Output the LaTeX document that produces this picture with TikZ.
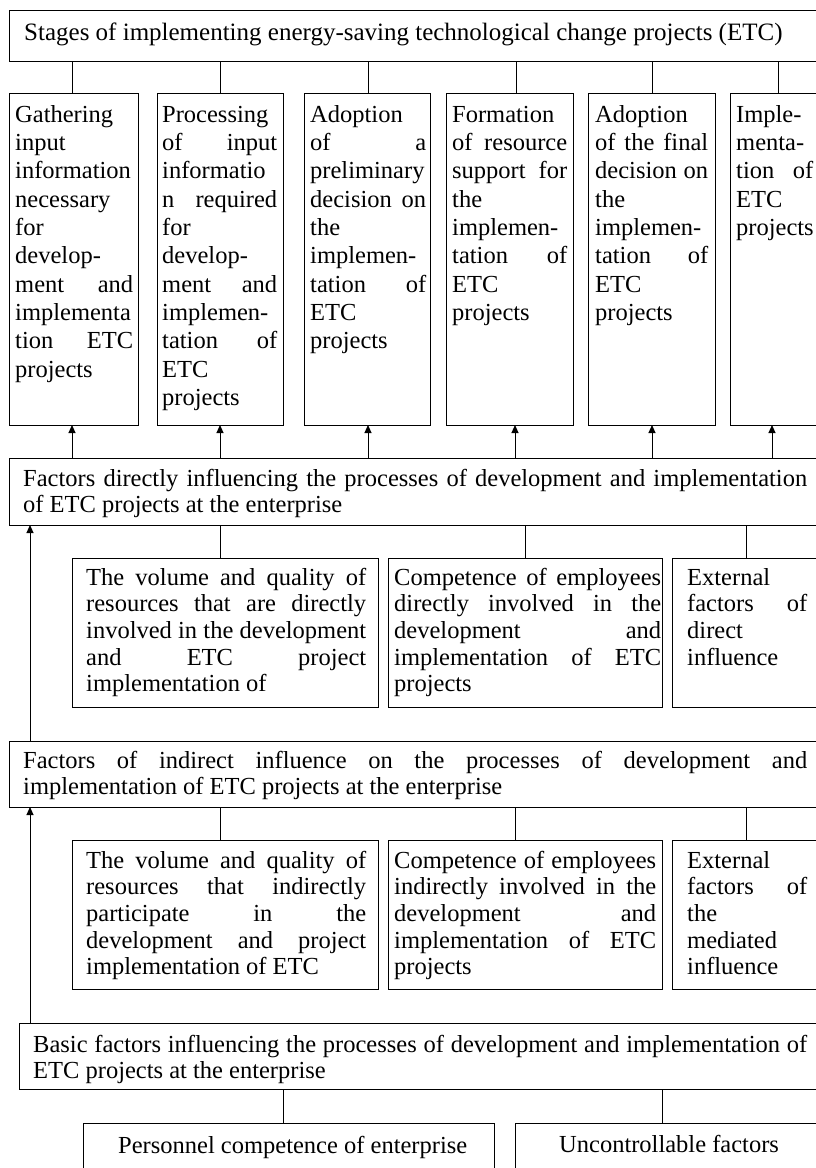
\documentclass[tikz,border=0pt]{standalone}
\usepackage{fontspec}
\setmainfont{Liberation Serif}
\usetikzlibrary{arrows.meta}
\setlength\parindent{0pt}
\AtBeginDocument{\tolerance=10000 \hyphenpenalty=10000 \hbadness=10000 \hfuzz=5pt}
\newcommand\st{\rule{0pt}{20pt}}
\begin{document}
\begin{tikzpicture}[x=1pt,y=-1pt,
  frame/.style={draw, line width=1pt, inner sep=0pt, outer sep=0pt, anchor=north west},
  stagetext/.style={anchor=north west, inner sep=0pt, align=justify, font=\fontsize{24.5}{28.33}\selectfont},
  factext/.style={anchor=north west, inner sep=0pt, align=justify, font=\fontsize{24.5}{26.67}\selectfont},
  plaintext/.style={anchor=north west, inner sep=0pt, font=\fontsize{24.5}{26.67}\selectfont},
  titletext/.style={anchor=north west, inner sep=0pt, font=\fontsize{25}{28}\selectfont},
  conn/.style={line width=1pt},
  arr/.style={line width=1pt, -{Triangle[length=8pt,width=7pt]}}]
\useasboundingbox (0,0) rectangle (816,1168);
\clip (0,0) rectangle (816,1168);

% column coordinates
\coordinate (c1) at (72,0);
\coordinate (c2) at (220,0);
\coordinate (c3) at (368,0);
\coordinate (c4) at (516,0);
\coordinate (c5) at (652,0);
\coordinate (c6) at (778,0);
\coordinate (a6) at (772,0);
\coordinate (k1) at (220,0);
\coordinate (k2) at (525,0);
\coordinate (k3) at (746,0);
\coordinate (m2) at (515,0);
\coordinate (b1) at (283,0);
\coordinate (b2) at (662,0);
\coordinate (L) at (30,0);

% top box
\node[frame, minimum width=821pt, minimum height=51pt] (top) at (9,10) {};
\node[titletext] (topt) at (24,20) {\st Stages of implementing energy-saving technological change projects (ETC)};

% stage boxes
\node[frame, minimum width=129pt, minimum height=332pt] (s1) at (9,93) {};
\node[frame, minimum width=126pt, minimum height=332pt] (s2) at (157,93) {};
\node[frame, minimum width=126pt, minimum height=332pt] (s3) at (304,93) {};
\node[frame, minimum width=127pt, minimum height=332pt] (s4) at (446,93) {};
\node[frame, minimum width=127pt, minimum height=332pt] (s5) at (588,93) {};
\node[frame, minimum width=92pt, minimum height=332pt] (s6) at (730,93) {};

\node[stagetext, text width=118pt] (s1t) at (15,102) {\st Gathering\linebreak input\linebreak information\linebreak necessary\linebreak for\linebreak develop-\linebreak ment and\linebreak implementa\linebreak tion ETC\linebreak projects};
\node[stagetext, text width=115pt] (s2t) at (162,102) {\st Processing\linebreak of input\linebreak informatio\linebreak n required\linebreak for\linebreak develop-\linebreak ment and\linebreak implemen-\linebreak tation of\linebreak ETC\linebreak projects};
\node[stagetext, text width=116pt] (s3t) at (310,102) {\st Adoption\linebreak of a\linebreak preliminary\linebreak decision on\linebreak the\linebreak implemen-\linebreak tation of\linebreak ETC\linebreak projects};
\node[stagetext, text width=115pt] (s4t) at (452,102) {\st Formation\linebreak of resource\linebreak support for\linebreak the\linebreak implemen-\linebreak tation of\linebreak ETC\linebreak projects};
\node[stagetext, text width=113pt] (s5t) at (595,102) {\st Adoption\linebreak of the final\linebreak decision on\linebreak the\linebreak implemen-\linebreak tation of\linebreak ETC\linebreak projects};
\node[stagetext, text width=77pt] (s6t) at (736,102) {\st Imple-\linebreak menta-\linebreak tion of\linebreak ETC\linebreak projects};

\foreach \i in {1,...,6} {\draw[conn] (top.south -| c\i) -- (s\i.north -| c\i);}

% direct factors
\node[frame, minimum width=821pt, minimum height=67pt] (fd) at (9,458) {};
\node[factext, text width=784pt] (fdt) at (23,466) {\st Factors directly influencing the processes of development and implementation\linebreak of ETC projects at the enterprise};

\draw[arr] (fd.north -| c1) -- (s1.south -| c1);
\draw[arr] (fd.north -| c2) -- (s2.south -| c2);
\draw[arr] (fd.north -| c3) -- (s3.south -| c3);
\draw[arr] (fd.north -| m2) -- (s4.south -| m2);
\draw[arr] (fd.north -| c5) -- (s5.south -| c5);
\draw[arr] (fd.north -| a6) -- (s6.south -| a6);

\node[frame, minimum width=306pt, minimum height=149pt] (da) at (72,558) {};
\node[frame, minimum width=274pt, minimum height=149pt] (db) at (388,558) {};
\node[frame, minimum width=158pt, minimum height=149pt] (dc) at (672,558) {};
\node[factext, text width=280pt] (dat) at (86,565) {\st The volume and quality of\linebreak resources that are directly\linebreak involved in the development\linebreak and ETC project\linebreak implementation of};
\node[factext, text width=267pt] (dbt) at (394,565) {\st Competence of employees\linebreak directly involved in the\linebreak development and\linebreak implementation of ETC\linebreak projects};
\node[factext, text width=120pt] (dct) at (687,565) {\st External\linebreak factors of\linebreak direct\linebreak influence};

\draw[conn] (fd.south -| k1) -- (da.north -| k1);
\draw[conn] (fd.south -| k2) -- (db.north -| k2);
\draw[conn] (fd.south -| k3) -- (dc.north -| k3);

% indirect factors
\node[frame, minimum width=821pt, minimum height=66pt] (fi) at (9,741) {};
\node[factext, text width=784pt] (fit) at (23,748) {\st Factors of indirect influence on the processes of development and\linebreak implementation of ETC projects at the enterprise};

\draw[arr] (fi.north -| L) -- (fd.south -| L);

\node[frame, minimum width=306pt, minimum height=149pt] (ia) at (72,840) {};
\node[frame, minimum width=274pt, minimum height=149pt] (ib) at (388,840) {};
\node[frame, minimum width=158pt, minimum height=149pt] (ic) at (672,840) {};
\node[factext, text width=280pt] (iat) at (86,848) {\st The volume and quality of\linebreak resources that indirectly\linebreak participate in the\linebreak development and project\linebreak implementation of ETC};
\node[factext, text width=262pt] (ibt) at (394,848) {\st Competence of employees\linebreak indirectly involved in the\linebreak development and\linebreak implementation of ETC\linebreak projects};
\node[factext, text width=120pt] (ict) at (687,848) {\st External\linebreak factors of\linebreak the\linebreak mediated\linebreak influence};

\draw[conn] (fi.south -| k1) -- (ia.north -| k1);
\draw[conn] (fi.south -| m2) -- (ib.north -| m2);
\draw[conn] (fi.south -| k3) -- (ic.north -| k3);

% basic factors
\node[frame, minimum width=811pt, minimum height=66pt] (bf) at (19,1023) {};
\node[factext, text width=774pt] (bft) at (33,1032) {\st Basic factors influencing the processes of development and implementation of\linebreak ETC projects at the enterprise};

\draw[arr] (bf.north -| L) -- (fi.south -| L);

\node[frame, minimum width=411pt, minimum height=70pt] (pc) at (83,1123) {};
\node[frame, minimum width=306pt, minimum height=70pt] (uf) at (515,1123) {};
\node[plaintext] (pct) at (118,1133) {\st Personnel competence of enterprise};
\node[plaintext] (uft) at (559,1132) {\st Uncontrollable factors};

\draw[conn] (bf.south -| b1) -- (pc.north -| b1);
\draw[conn] (bf.south -| b2) -- (uf.north -| b2);
\end{tikzpicture}
\end{document}
